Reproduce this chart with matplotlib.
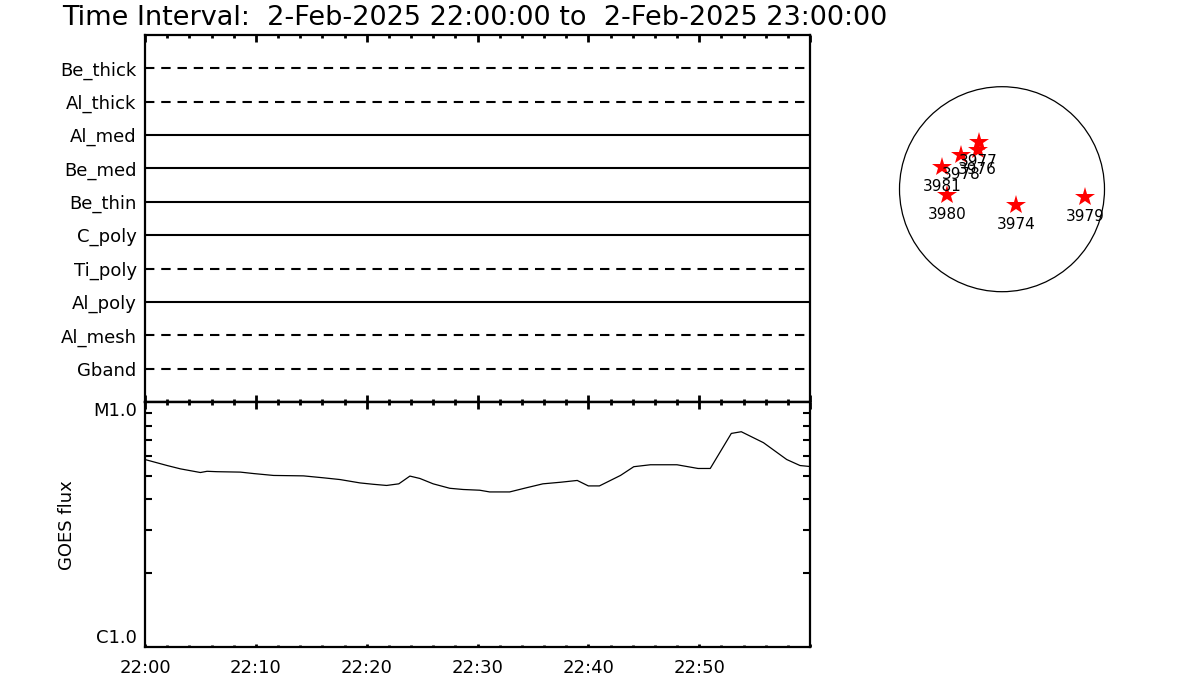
import matplotlib
matplotlib.use("Agg")
import matplotlib.pyplot as plt
from matplotlib.patches import Circle
from matplotlib.ticker import FixedLocator, MultipleLocator, NullFormatter

# --- data -----------------------------------------------------------------
title = "Time Interval:  2-Feb-2025 22:00:00 to  2-Feb-2025 23:00:00"

# filter channels, top to bottom
channels = ["Be_thick", "Al_thick", "Al_med", "Be_med", "Be_thin",
            "C_poly", "Ti_poly", "Al_poly", "Al_mesh", "Gband"]
channel_dashed = [True, True, False, False, False,
                  False, True, False, True, True]

# GOES 1-8 A flux, minutes after 22:00 UT and W/m^2
goes_min = [0.0, 2.0, 3.2, 5.0, 5.6, 6.5, 8.6, 9.8, 11.6, 14.3, 16.1, 17.6,
            19.4, 20.6, 21.8, 22.9, 23.9, 24.8, 26.0, 27.5, 28.7, 30.2,
            31.1, 32.9, 34.4, 35.9, 37.5, 39.0, 40.0, 41.0, 42.9, 44.1,
            45.6, 48.0, 49.9, 51.0, 52.9, 53.8, 55.8, 57.9, 59.1, 60.0]
goes_flux = [5.82e-6, 5.50e-6, 5.33e-6, 5.15e-6, 5.21e-6, 5.19e-6, 5.17e-6,
             5.10e-6, 5.01e-6, 4.99e-6, 4.90e-6, 4.82e-6, 4.67e-6, 4.61e-6,
             4.56e-6, 4.63e-6, 4.98e-6, 4.87e-6, 4.63e-6, 4.44e-6, 4.39e-6,
             4.36e-6, 4.29e-6, 4.29e-6, 4.46e-6, 4.63e-6, 4.70e-6, 4.78e-6,
             4.54e-6, 4.54e-6, 5.01e-6, 5.44e-6, 5.54e-6, 5.54e-6, 5.35e-6,
             5.35e-6, 7.44e-6, 7.56e-6, 6.82e-6, 5.82e-6, 5.50e-6, 5.45e-6]

time_ticks = [0, 10, 20, 30, 40, 50, 60]
time_labels = ["22:00", "22:10", "22:20", "22:30", "22:40", "22:50", ""]

# active regions on the solar disk (arcsec from disk centre)
ar_num = ["3977", "3976", "3978", "3981", "3980", "3974", "3979"]
ar_x = [-223, -233, -391, -572, -524, 135, 791]
ar_y = [452, 373, 325, 208, -55, -150, -71]
r_sun = 975

# --- figure ---------------------------------------------------------------
plt.rcParams['font.family'] = ['DejaVu Sans']
fig = plt.figure(figsize=(12, 7), dpi=100)

W, H = 1200.0, 700.0
x0, x1 = 145 / W, 810 / W
ax_top = fig.add_axes([x0, 1 - 402 / H, x1 - x0, (402 - 35) / H])
ax_bot = fig.add_axes([x0, 1 - 646.7 / H, x1 - x0, (646.7 - 402) / H])

fig.text(62 / W, 1 - 25 / H, title, fontsize=19.5, va='baseline', ha='left')

# top panel: one line per channel
n = len(channels)
for i, (name, dashed) in enumerate(zip(channels, channel_dashed)):
    y = n - i
    ls = (0, (4.5, 3.3)) if dashed else '-'
    ax_top.plot([0, 60], [y, y], color='black', lw=1.5, linestyle=ls)

ax_top.set_xlim(0, 60)
ax_top.set_ylim(0, n + 1)
ax_top.set_yticks(range(n, 0, -1))
ax_top.set_yticklabels(channels, fontsize=13)
ax_top.tick_params(axis='y', length=0, pad=6)
ax_top.xaxis.set_major_locator(MultipleLocator(10))
ax_top.xaxis.set_minor_locator(MultipleLocator(2))
ax_top.xaxis.set_major_formatter(NullFormatter())
ax_top.tick_params(axis='x', which='both', direction='in', top=True,
                   bottom=True, width=2)
ax_top.tick_params(axis='x', which='major', length=5)
ax_top.tick_params(axis='x', which='minor', length=2.5)

# bottom panel: GOES curve
ax_bot.plot(goes_min, goes_flux, color='black', lw=0.9)
ax_bot.set_yscale('log')
ax_bot.set_xlim(0, 60)
ax_bot.set_ylim(1e-6, 1e-5)
ax_bot.yaxis.set_major_locator(FixedLocator([1e-6, 1e-5]))
ax_bot.set_yticklabels(["C1.0", "M1.0"], fontsize=13)
ax_bot.yaxis.set_minor_locator(FixedLocator([k * 1e-6 for k in range(2, 10)]))
ax_bot.yaxis.set_minor_formatter(NullFormatter())
lbls = ax_bot.get_yticklabels()
lbls[0].set_va('bottom')
lbls[1].set_va('top')
ax_bot.tick_params(axis='y', which='both', direction='in', left=True,
                   right=True, width=1.5, pad=6)
ax_bot.tick_params(axis='y', which='minor', length=5)
ax_bot.tick_params(axis='y', which='major', length=0)

ax_bot.xaxis.set_major_locator(FixedLocator(time_ticks))
ax_bot.xaxis.set_minor_locator(MultipleLocator(2))
ax_bot.set_xticklabels(time_labels, fontsize=13)
ax_bot.tick_params(axis='x', which='both', direction='in', top=False,
                   bottom=True, width=2, pad=9)
ax_bot.tick_params(axis='x', which='major', length=2.5)
ax_bot.tick_params(axis='x', which='minor', length=1.2)

# top edge of the GOES panel: ticks pointing down
sec = ax_bot.secondary_xaxis('top')
sec.xaxis.set_major_locator(MultipleLocator(10))
sec.xaxis.set_minor_locator(MultipleLocator(2))
sec.xaxis.set_major_formatter(NullFormatter())
sec.tick_params(axis='x', which='both', direction='in', width=2)
sec.tick_params(axis='x', which='major', length=5)
sec.tick_params(axis='x', which='minor', length=2.5)
sec.spines['top'].set_linewidth(1.6)

fig.text(67 / W, 1 - 525 / H, "GOES flux", rotation=90, fontsize=13,
         ha='center', va='center')

for ax in (ax_top, ax_bot):
    for sp in ax.spines.values():
        sp.set_linewidth(1.6)

# solar disk with active regions
half = 122 * 975 / 102.5
ax_sun = fig.add_axes([880 / W, 1 - 311.2 / H, 244 / W, 244 / H])
ax_sun.set_xlim(-half, half)
ax_sun.set_ylim(-half, half)
ax_sun.axis('off')
ax_sun.add_patch(Circle((0, 0), r_sun, fill=False, color='black', lw=0.9))
ax_sun.plot(ar_x, ar_y, linestyle='none', marker='*', color='red',
            markersize=15, markeredgewidth=0)
for num, x, y in zip(ar_num, ar_x, ar_y):
    ax_sun.text(x, y - 185, num, fontsize=11, ha='center', va='center',
                zorder=5)

fig.savefig("out.png", dpi=100)
